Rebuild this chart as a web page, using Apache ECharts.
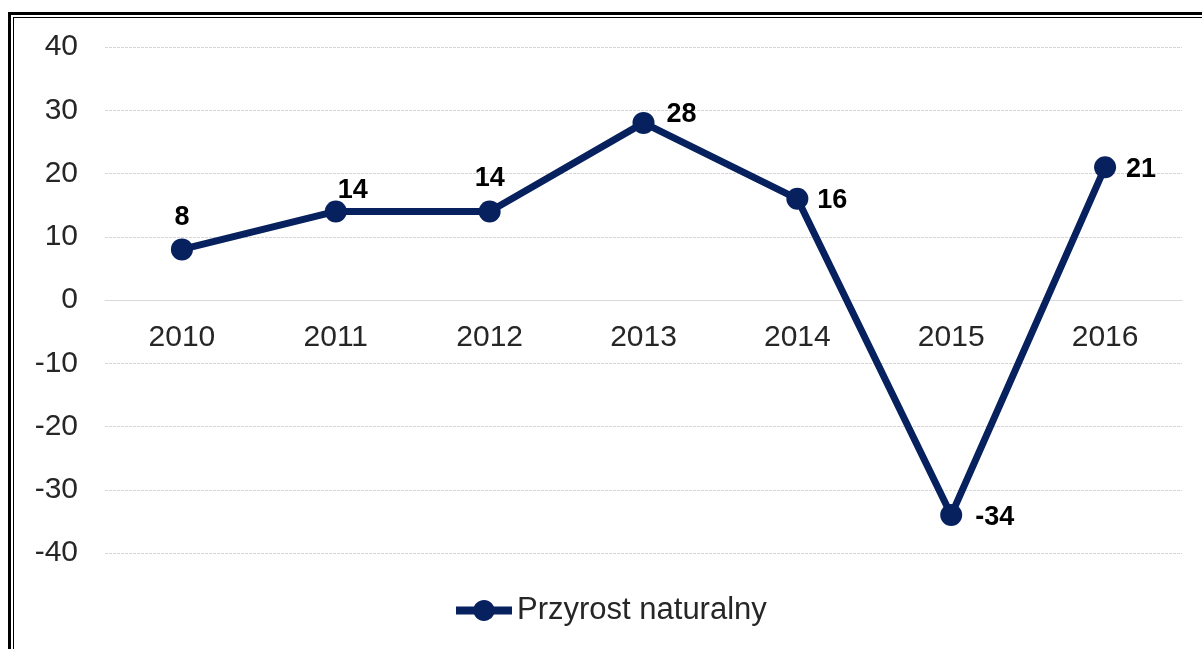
<!DOCTYPE html>
<html>
<head>
<meta charset="utf-8">
<script src="https://cdn.jsdelivr.net/npm/echarts@6/dist/echarts.min.js"></script>
<style>
  html, body { margin: 0; padding: 0; background: #fff; }
  #frame {
    position: absolute; left: 8px; top: 12px; right: 0; bottom: 0;
    border-left: 3px solid #000; border-top: 3px solid #000;
  }
  #frame2 {
    position: absolute; left: 2px; top: 2px; right: 0; bottom: 0;
    border-left: 1px solid #000; border-top: 1px solid #000;
  }
  #chart { position: absolute; left: 0; top: 0; width: 1202px; height: 649px; }
</style>
</head>
<body>
<div id="frame"><div id="frame2"></div></div>
<div id="chart"></div>
<script>
  // Data
  const years = ["2010", "2011", "2012", "2013", "2014", "2015", "2016"];
  const growth = [8, 14, 14, 28, 16, -34, 21];
  const seriesName = "Przyrost naturalny";

  // label placement per point (style only)
  const labelPositions = ["top", "top", "top", "right", "right", "right", "right"];
  const labelOffsets = [[0, -2], [17, 9], [0, -3], [7, -8], [4, 2], [8, 2], [5, 2]];

  const chart = echarts.init(document.getElementById("chart"));

  const font = "Liberation Sans, Arial";

  const option = {
    animation: false,
    grid: { left: 105, right: 20, top: 47, bottom: 96 },
    legend: {
      bottom: 18,
      left: 451,
      itemWidth: 56,
      itemHeight: 22,
      itemGap: 6,
      textStyle: { fontFamily: font, fontSize: 31, color: "#262626" },
      data: [{
        name: seriesName,
        icon: "path://M0,7 L18,7 A11,11 0 0 1 38,7 L56,7 L56,15 L38,15 A11,11 0 0 1 18,15 L0,15 Z"
      }]
    },
    xAxis: {
      type: "category",
      data: years,
      offset: -253,
      axisLine: { lineStyle: { color: "#d9d9d9", width: 1 } },
      axisTick: { show: false },
      axisLabel: { fontFamily: font, fontSize: 30, color: "#262626", margin: 23 },
      splitLine: { show: false }
    },
    yAxis: {
      type: "value",
      min: -40,
      max: 40,
      interval: 10,
      axisLine: { show: false },
      axisTick: { show: false },
      axisLabel: { fontFamily: font, fontSize: 30, color: "#262626", margin: 27 },
      splitLine: { lineStyle: { color: "#d4d4d4", type: [3, 1], width: 1 } }
    },
    series: [
      {
        name: seriesName,
        type: "line",
        data: growth.map(function (v, i) {
          return {
            value: v,
            label: {
              position: labelPositions[i],
              offset: labelOffsets[i]
            }
          };
        }),
        symbol: "circle",
        symbolSize: 22,
        lineStyle: { color: "#07215f", width: 7 },
        itemStyle: { color: "#07215f" },
        label: {
          show: true,
          fontFamily: font,
          fontSize: 27,
          fontWeight: "bold",
          color: "#000"
        }
      }
    ]
  };

  chart.setOption(option);
</script>
</body>
</html>
